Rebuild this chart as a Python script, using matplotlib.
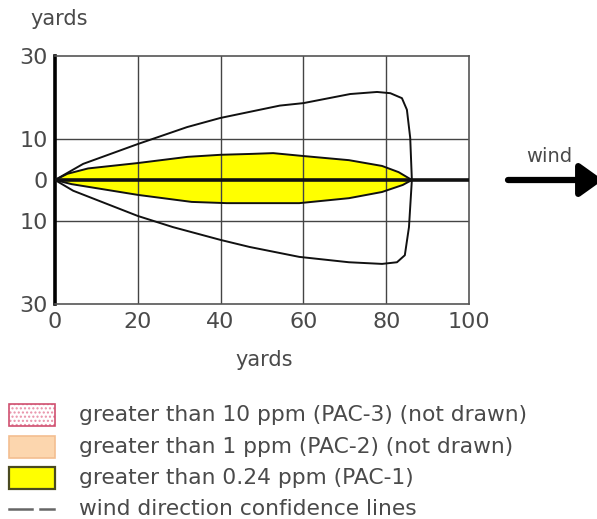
import matplotlib.pyplot as plt
from matplotlib.patches import Rectangle, FancyArrowPatch
from matplotlib.lines import Line2D

# downwind distance (yards) / crosswind distance (yards)
conf_upper_x = [0, 6.8, 20, 31.9, 39.9, 47.1, 54.3, 60, 71.3, 77.8, 81, 83.8, 85, 85.8, 86.2]
conf_upper_y = [0, 3.9, 8.7, 12.8, 15.0, 16.5, 18.0, 18.6, 20.8, 21.3, 21.0, 19.8, 17.0, 10.2, 0]
conf_lower_x = [0, 4.4, 20, 28.5, 40, 47, 59, 71, 79, 82.6, 84.5, 85.5, 86.2]
conf_lower_y = [0, -2.6, -8.7, -11.4, -14.5, -16.2, -18.6, -19.9, -20.3, -19.9, -18.2, -11.4, 0]

pac1_upper_x = [0, 3, 8, 20, 32, 40, 47, 52.7, 60, 71, 79, 83, 86.2]
pac1_upper_y = [0, 1.5, 2.8, 4.1, 5.6, 6.1, 6.3, 6.5, 5.8, 4.8, 3.4, 1.9, 0]
pac1_lower_x = [0, 4, 20, 33, 41.5, 47, 59, 71, 79, 84, 86.2]
pac1_lower_y = [0, -1.0, -3.6, -5.3, -5.6, -5.6, -5.6, -4.4, -2.9, -1.2, 0]

x_ticks = [0, 20, 40, 60, 80, 100]
y_ticks = [30, 10, 0, -10, -30]
y_tick_labels = ["30", "10", "0", "10", "30"]

legend_labels = [
    "greater than 10 ppm (PAC-3) (not drawn)",
    "greater than 1 ppm (PAC-2) (not drawn)",
    "greater than 0.24 ppm (PAC-1)",
    "wind direction confidence lines",
]

W, H = 597, 519
TEXT = "#4a4a4a"

plt.rcParams["hatch.color"] = "#e890a8"

fig = plt.figure(figsize=(W / 100, H / 100), dpi=100)
ax = fig.add_axes([55 / W, 1 - 304 / H, 414 / W, 248 / H])
ax.set_xlim(0, 100)
ax.set_ylim(-30, 30)

# threat zone fill
poly_x = pac1_upper_x + pac1_lower_x[::-1]
poly_y = pac1_upper_y + pac1_lower_y[::-1]
ax.fill(poly_x, poly_y, facecolor="#ffff00", edgecolor="none", zorder=1)
ax.plot(pac1_upper_x, pac1_upper_y, color="#111111", lw=1.4, zorder=3)
ax.plot(pac1_lower_x, pac1_lower_y, color="#111111", lw=1.4, zorder=3)

# confidence lines
ax.plot(conf_upper_x, conf_upper_y, color="#111111", lw=1.4, zorder=3)
ax.plot(conf_lower_x, conf_lower_y, color="#111111", lw=1.4, zorder=3)

# centerline along the wind direction
ax.plot([0, 100], [0, 0], color="#111111", lw=2.6, zorder=4, solid_capstyle="butt")

ax.set_xticks(x_ticks)
ax.set_yticks(y_ticks)
ax.set_yticklabels(y_tick_labels)
ax.tick_params(length=0, labelsize=16, labelcolor=TEXT, pad=5)
ax.tick_params(axis="x", pad=6)

for v in [20, 40, 60, 80]:
    ax.axvline(v, color="#444444", lw=1.0, zorder=2)
for v in [10, -10]:
    ax.axhline(v, color="#444444", lw=1.0, zorder=2)

for side in ["top", "right", "bottom"]:
    ax.spines[side].set_color("#555555")
    ax.spines[side].set_linewidth(1.2)
ax.spines["left"].set_color("#000000")
ax.spines["left"].set_linewidth(2.6)

# overlay in pixel coordinates for labels, arrow and legend
ov = fig.add_axes([0, 0, 1, 1])
ov.set_xlim(0, W)
ov.set_ylim(H, 0)
ov.axis("off")
ov.patch.set_alpha(0)

ov.text(59, 19, "yards", fontsize=15, color=TEXT, ha="center", va="center")
ov.text(264, 360, "yards", fontsize=15, color=TEXT, ha="center", va="center")

ov.text(549, 157, "wind", fontsize=14, color=TEXT, ha="center", va="center")
arrow = FancyArrowPatch((508, 180), (603, 180),
                        arrowstyle="-|>,head_length=14,head_width=10",
                        mutation_scale=1, lw=4.5, color="#000000",
                        shrinkA=0, shrinkB=0, clip_on=False)
ov.add_patch(arrow)

rows = [415, 447, 478, 509]
px0, px1 = 9, 55
ph = 22
ov.add_patch(Rectangle((px0, rows[0] - ph / 2), px1 - px0, ph, facecolor="white",
                       edgecolor="#e890a8", lw=0, hatch="....", zorder=2))
ov.add_patch(Rectangle((px0, rows[0] - ph / 2), px1 - px0, ph, facecolor="none",
                       edgecolor="#d05070", lw=1.2, zorder=3))
ov.add_patch(Rectangle((px0, rows[1] - ph / 2), px1 - px0, ph, facecolor="#fcd6ae",
                       edgecolor="#f3be90", lw=1.2))
ov.add_patch(Rectangle((px0, rows[2] - ph / 2), px1 - px0, ph, facecolor="#ffff00",
                       edgecolor="#4a4a20", lw=1.6))
ov.add_line(Line2D([px0, 32], [rows[3], rows[3]], color="#666666", lw=1.8))
ov.add_line(Line2D([40, 54], [rows[3], rows[3]], color="#666666", lw=1.8))

for y, label in zip(rows, legend_labels):
    ov.text(79, y, label, fontsize=15.7, color=TEXT, ha="left", va="center")

fig.savefig("out.png", dpi=100)
